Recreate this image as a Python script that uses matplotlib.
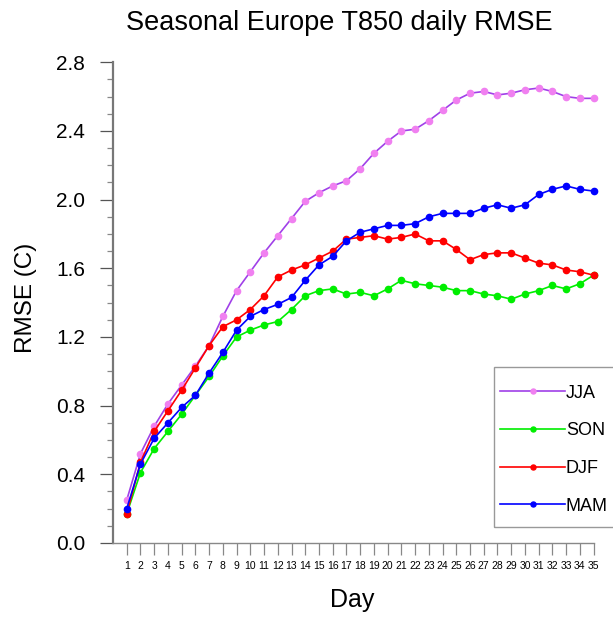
import numpy as np
import matplotlib
matplotlib.use('Agg')
import matplotlib.pyplot as plt
from matplotlib.patches import Rectangle
from matplotlib.ticker import MultipleLocator

plt.rcParams['font.family'] = ['Liberation Sans', 'DejaVu Sans']

# Data
days = list(range(1, 36))
jja = [0.25, 0.52, 0.68, 0.81, 0.92, 1.03, 1.15, 1.32, 1.47, 1.58,
       1.69, 1.79, 1.89, 1.99, 2.04, 2.08, 2.11, 2.18, 2.27, 2.34,
       2.40, 2.41, 2.46, 2.52, 2.58, 2.62, 2.63, 2.61, 2.62, 2.64,
       2.65, 2.63, 2.60, 2.59, 2.59]
son = [0.17, 0.41, 0.55, 0.65, 0.75, 0.86, 0.97, 1.09, 1.20, 1.24,
       1.27, 1.29, 1.36, 1.44, 1.47, 1.48, 1.45, 1.46, 1.44, 1.48,
       1.53, 1.51, 1.50, 1.49, 1.47, 1.47, 1.45, 1.44, 1.42, 1.45,
       1.47, 1.50, 1.48, 1.51, 1.56]
djf = [0.17, 0.47, 0.65, 0.77, 0.89, 1.02, 1.15, 1.26, 1.30, 1.36,
       1.44, 1.55, 1.59, 1.62, 1.66, 1.70, 1.77, 1.78, 1.79, 1.77,
       1.78, 1.80, 1.76, 1.76, 1.71, 1.65, 1.68, 1.69, 1.69, 1.66,
       1.63, 1.62, 1.59, 1.58, 1.56]
mam = [0.20, 0.46, 0.61, 0.70, 0.79, 0.86, 0.99, 1.11, 1.24, 1.32,
       1.36, 1.39, 1.43, 1.53, 1.62, 1.67, 1.76, 1.81, 1.83, 1.85,
       1.85, 1.86, 1.90, 1.92, 1.92, 1.92, 1.95, 1.97, 1.95, 1.97,
       2.03, 2.06, 2.08, 2.06, 2.05]
yticks = [0.0, 0.4, 0.8, 1.2, 1.6, 2.0, 2.4, 2.8]

W, H = 613, 617
fig = plt.figure(figsize=(W / 100, H / 100), dpi=100)
ax = fig.add_axes([113 / W, 1 - 543 / H, 480.6 / W, 480.7 / H])

lines = []
# series, name, line colour, marker colour
for vals, name, lc, mc in [(jja, 'JJA', '#a040e8', '#f080f0'),
                           (son, 'SON', '#00ee00', '#00ee00'),
                           (djf, 'DJF', '#ff0000', '#ff0000'),
                           (mam, 'MAM', '#0000ff', '#0000ff')]:
    ln, = ax.plot(days, vals, '-o', color=lc, mfc=mc, mec=mc, lw=1.2,
                  ms=4.5, label=name, clip_on=False)
    lines.append(ln)

ax.set_xlim(0, 35)
ax.set_ylim(0, 2.8)
ax.set_xticks(days)
ax.set_xticklabels([str(d) for d in days], fontsize=7.5)
ax.set_yticks(yticks)
ax.set_yticklabels(['%.1f' % v for v in yticks], fontsize=15)
ax.yaxis.set_minor_locator(MultipleLocator(0.1))

for s in ['top', 'right']:
    ax.spines[s].set_visible(False)
ax.spines['left'].set_color('#777777')
ax.spines['left'].set_linewidth(1.6)
ax.spines['bottom'].set_color('#888888')
ax.spines['bottom'].set_linewidth(1.0)
ax.tick_params(axis='y', which='major', length=9.4, width=0.9,
               color='#555555', pad=10.5)
ax.tick_params(axis='y', which='minor', length=4.3, width=0.9,
               color='#888888')
ax.tick_params(axis='x', which='major', length=8.6, width=0.9,
               color='#888888', pad=4.5)

fig.text(352 / W, 1 - 600 / H, 'Day', fontsize=18, ha='center', va='center')
fig.text(26 / W, 1 - 298 / H, 'RMSE (C)', fontsize=17.5, rotation=90,
         ha='center', va='center')
fig.text(339 / W, 1 - 23 / H, 'Seasonal Europe T850 daily RMSE',
         fontsize=19.5, ha='center', va='center')

# legend box runs off the right edge as in the reference
fig.patches.append(Rectangle((494 / W, 1 - 526.7 / H), 140 / W, 160 / H,
                             transform=fig.transFigure, fill=False,
                             edgecolor='#999999', lw=1.0))
leg = ax.legend(handles=lines, loc='upper left',
                bbox_to_anchor=(500 / W, 1 - 384.5 / H),
                bbox_transform=fig.transFigure, fontsize=13,
                frameon=False, borderaxespad=0, borderpad=0,
                handlelength=3.6, handletextpad=0.05, labelspacing=1.15,
                markerscale=0.8, numpoints=1)

fig.savefig('out.png', dpi=100)
